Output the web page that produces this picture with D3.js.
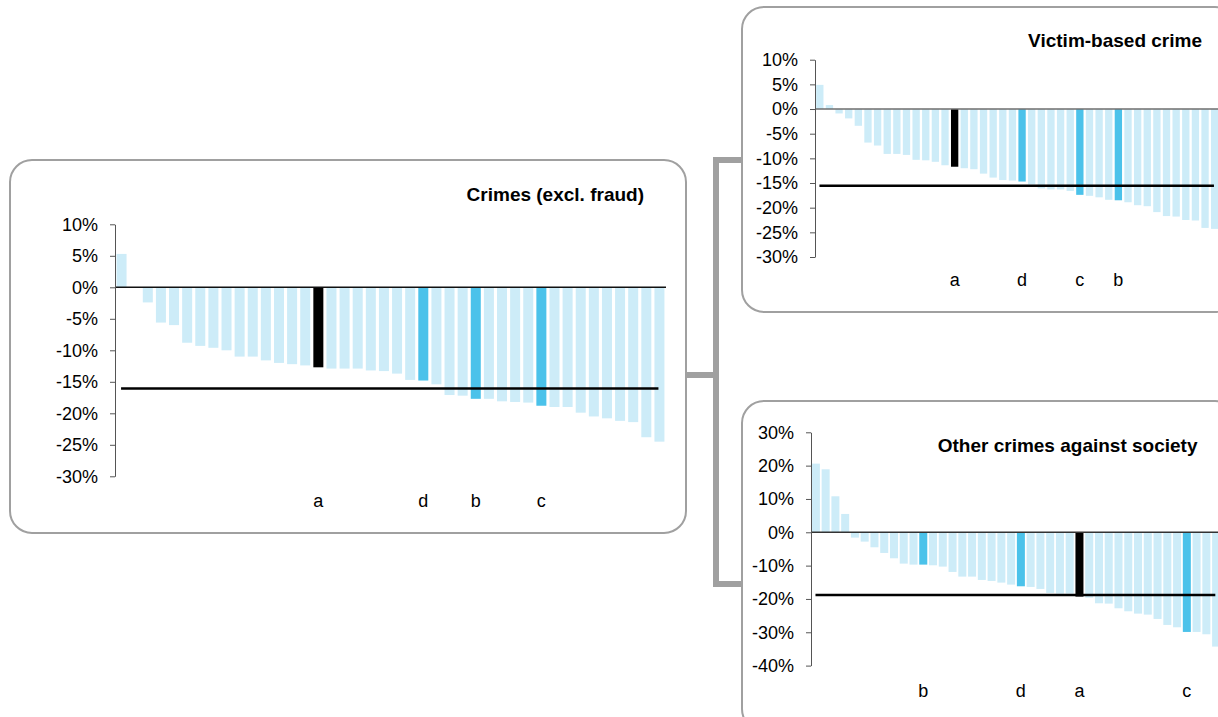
<!DOCTYPE html>
<html>
<head>
<meta charset="utf-8">
<script src="https://cdn.jsdelivr.net/npm/d3@7/dist/d3.min.js"></script>
<style>
  html, body { margin: 0; padding: 0; background: #fff; }
  svg { display: block; font-family: "Liberation Sans", Arial, sans-serif; }
</style>
</head>
<body>
<svg id="chart" width="1218" height="717"></svg>
<script>
// ---------- DATA ----------
const crimesTitle = "Crimes (excl. fraud)";
const crimesValues = [5.3, 0, -2.4, -5.6, -6.0, -8.8, -9.3, -9.6, -10.0, -11.0, -11.0, -11.6, -12.0, -12.2,
  -12.4, -12.7, -12.9, -12.9, -12.9, -13.2, -13.3, -13.7, -14.7, -14.8, -15.4, -17.1, -17.2, -17.7,
  -17.7, -18.1, -18.2, -18.3, -18.8, -19.0, -19.0, -19.9, -20.5, -20.8, -21.2, -21.4, -23.8, -24.5];
const crimesMarkIdx = [15, 23, 27, 32];
const crimesMarkLbl = ["a", "d", "b", "c"];
const crimesAverage = -16.05;
const crimesTicks = [10, 5, 0, -5, -10, -15, -20, -25, -30];

const victimTitle = "Victim-based crime";
const victimValues = [4.9, 0.8, -0.9, -1.9, -3.4, -6.8, -7.4, -9.1, -9.1, -9.3, -10.3, -10.4, -10.7, -11.4,
  -11.7, -12.0, -12.2, -13.1, -13.9, -14.4, -14.5, -14.7, -15.3, -16.1, -16.3, -16.3, -16.6, -17.4,
  -17.6, -17.9, -18.4, -18.5, -18.9, -19.5, -19.7, -20.9, -21.7, -21.8, -22.5, -22.6, -24.1, -24.3];
const victimMarkIdx = [14, 21, 27, 31];
const victimMarkLbl = ["a", "d", "c", "b"];
const victimAverage = -15.54;
const victimTicks = [10, 5, 0, -5, -10, -15, -20, -25, -30];

const societyTitle = "Other crimes against society";
const societyValues = [20.6, 18.9, 10.8, 5.5, -1.6, -2.8, -4.5, -6.2, -7.8, -9.4, -9.7, -9.7, -9.9, -10.3,
  -11.9, -13.3, -13.3, -14.3, -14.6, -15.1, -15.7, -16.2, -16.4, -17.0, -18.2, -18.4, -18.4, -19.3,
  -19.6, -21.3, -21.4, -22.8, -23.7, -24.4, -24.7, -26.0, -27.8, -28.5, -29.9, -29.9, -30.6, -34.3];
const societyMarkIdx = [11, 21, 27, 38];
const societyMarkLbl = ["b", "d", "a", "c"];
const societyAverage = -18.8;
const societyTicks = [30, 20, 10, 0, -10, -20, -30, -40];

// ---------- STYLE ----------
const LIGHT = "#cdecf8";
const BLUE = "#4bc2ea";
const BLACK = "#000000";
const BOX = "#a0a0a0";

const svg = d3.select("#chart");

// connector
svg.append("path")
  .attr("d", "M686,375 H716 M742,160 H716 V584 H742")
  .attr("fill", "none").attr("stroke", BOX).attr("stroke-width", 6)
  .attr("stroke-linejoin", "miter");

function panel(cfg) {
  const g = svg.append("g");
  g.append("rect")
    .attr("x", cfg.box[0]).attr("y", cfg.box[1]).attr("width", cfg.box[2]).attr("height", cfg.box[3])
    .attr("rx", 22).attr("ry", 22)
    .attr("fill", "#fff").attr("stroke", BOX).attr("stroke-width", 2);

  const n = cfg.values.length;
  const x = d3.scaleBand().domain(d3.range(n)).range(cfg.xRange)
    .paddingInner(cfg.pad).paddingOuter(cfg.pad / 2);
  const y = d3.scaleLinear().domain([d3.min(cfg.ticks), d3.max(cfg.ticks)]).range(cfg.yRange);

  const colorOf = i => {
    const k = cfg.markIdx.indexOf(i);
    if (k < 0) return LIGHT;
    return cfg.markLbl[k] === "a" ? BLACK : BLUE;
  };

  g.append("g").selectAll("rect").data(cfg.values).join("rect")
    .attr("x", (d, i) => x(i))
    .attr("width", x.bandwidth())
    .attr("y", d => y(Math.max(0, d)))
    .attr("height", d => Math.abs(y(d) - y(0)))
    .attr("fill", (d, i) => colorOf(i));

  // zero line
  g.append("line")
    .attr("x1", cfg.xRange[0]).attr("x2", cfg.xRange[1])
    .attr("y1", y(0)).attr("y2", y(0))
    .attr("stroke", cfg.zeroColor).attr("stroke-width", 1.5);

  // average line
  g.append("line")
    .attr("x1", x(0) + x.bandwidth() * 0.45)
    .attr("x2", Math.min(1218, x(n - 1) + x.bandwidth() * 0.4))
    .attr("y1", y(cfg.average)).attr("y2", y(cfg.average))
    .attr("stroke", BLACK).attr("stroke-width", 2.5);

  // axis
  const ax = g.append("g").attr("transform", `translate(${cfg.xRange[0]},0)`)
    .call(d3.axisLeft(y).tickValues(cfg.ticks).tickFormat(d => d + "%")
      .tickSize(5).tickSizeOuter(0).tickPadding(12));
  ax.select(".domain").attr("stroke", "#555");
  ax.selectAll(".tick line").attr("stroke", "#555");
  ax.selectAll(".tick text").attr("fill", "#000").attr("font-size", "18px")
    .attr("font-family", "'Liberation Sans', Arial, sans-serif");

  // title
  g.append("text")
    .attr("x", cfg.titlePos[0]).attr("y", cfg.titlePos[1])
    .attr("text-anchor", "end").attr("font-weight", "bold").attr("font-size", "19px")
    .attr("fill", "#000").text(cfg.title);

  // category labels
  g.append("g").selectAll("text").data(cfg.markIdx).join("text")
    .attr("x", i => x(i) + x.bandwidth() / 2)
    .attr("y", cfg.labelY)
    .attr("text-anchor", "middle").attr("font-size", "18px").attr("fill", "#000")
    .text((i, k) => cfg.markLbl[k]);
}

panel({
  box: [10, 160, 676, 373], xRange: [115, 666], yRange: [476.3, 224.3], pad: 0.237,
  values: crimesValues, markIdx: crimesMarkIdx, markLbl: crimesMarkLbl, average: crimesAverage,
  ticks: crimesTicks, title: crimesTitle, titlePos: [644, 201], labelY: 507, zeroColor: "#111"
});
panel({
  box: [742, 7, 495, 305], xRange: [815, 1219.5], yRange: [257, 59.7], pad: 0.24,
  values: victimValues, markIdx: victimMarkIdx, markLbl: victimMarkLbl, average: victimAverage,
  ticks: victimTicks, title: victimTitle, titlePos: [1202, 46.5], labelY: 286, zeroColor: "#6e6e6e"
});
panel({
  box: [742, 401, 495, 330], xRange: [811, 1221], yRange: [665.6, 432.3], pad: 0.18,
  values: societyValues, markIdx: societyMarkIdx, markLbl: societyMarkLbl, average: societyAverage,
  ticks: societyTicks, title: societyTitle, titlePos: [1197.5, 452], labelY: 697, zeroColor: "#333"
});
</script>
</body>
</html>
